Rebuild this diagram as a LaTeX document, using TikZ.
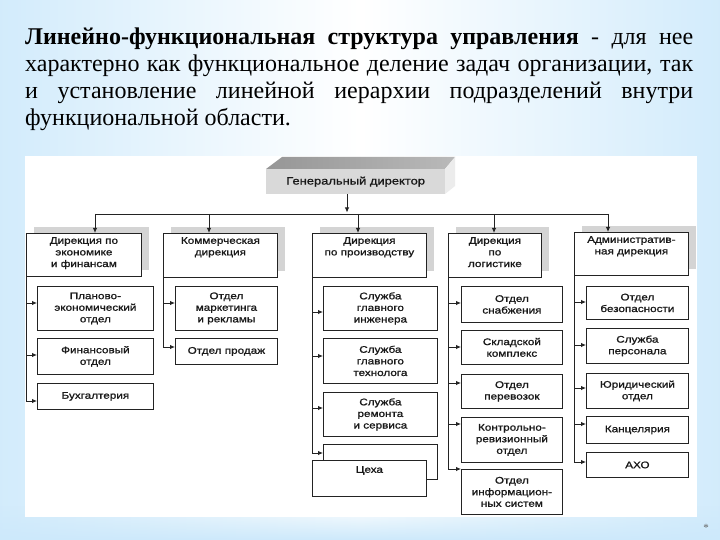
\documentclass[tikz,border=0pt]{standalone}
\usepackage{fontspec}
\setmainfont{Liberation Serif}
\newfontfamily\dfont[FakeStretch=1.22,FakeBold=1.2]{Liberation Sans}
\usetikzlibrary{arrows.meta,fadings}

\definecolor{bgblue}{RGB}{128,195,242}
\definecolor{bglight}{RGB}{205,233,251}
\definecolor{linec}{RGB}{35,35,35}
\definecolor{shadowc}{RGB}{212,212,212}
\definecolor{dfront}{RGB}{217,217,217}
\definecolor{dtopL}{RGB}{150,150,150}
\definecolor{dtopR}{RGB}{185,185,185}
\definecolor{dside}{RGB}{236,236,236}
\definecolor{textc}{RGB}{25,25,25}

\pgfdeclarehorizontalshading{bgh}{100bp}{color(0bp)=(bgblue); color(22bp)=(bglight); color(50bp)=(white); color(78bp)=(bglight); color(100bp)=(bgblue)}

\tikzset{
  ln/.style={draw=linec, line width=0.9pt},
  arr/.style={ln, -{Latex[length=5pt,width=4.5pt]}},
  box/.style={draw=linec, line width=0.8pt, fill=white, inner sep=0pt, anchor=north west,
    align=center, text=textc, font=\dfont\fontsize{9.6}{11.6}\selectfont},
  htext/.style={inner sep=0pt, anchor=north, align=center, text=textc, font=\dfont\fontsize{9.6}{11.6}\selectfont},
  titleline/.style={inner sep=0pt, anchor=base west, text=black, font=\fontsize{24}{27}\selectfont},
}

% #1 name, #2 x, #3 y, #4 w, #5 h, #6 text
\newcommand\headbx[6]{%
  \fill[shadowc] (#2+8,#3-6) rectangle (#2+8+#4,#3-6+#5);
  \node[box, minimum width=#4pt, minimum height=#5pt] (#1) at (#2,#3) {};
  \node[htext, yshift=-4pt] (#1t) at (#1.north) {#6};
}
% #1 name, #2 x, #3 y, #4 w, #5 h, #6 arrow offset, #7 column line anchor, #8 text
\newcommand\subbx[8]{%
  \node[box, minimum width=#4pt, minimum height=#5pt] (#1) at (#2,#3) {#8};
  \coordinate (#1a) at (#2,#3+#6);
  \draw[arr] (#7 |- #1a) -- (#1a);
}

\begin{document}
\begin{tikzpicture}[x=1pt,y=-1pt]
\useasboundingbox (0,0) rectangle (720,540);
\shade[shading=bgh] (0,0) rectangle (720,540);
\fill[bglight, path fading=north] (0,505) rectangle (720,540);
\fill[white] (25,156) rectangle (697,517);

% title
\node[titleline] (t1) at (25,45) {\makebox[668pt][s]{\bfseries Линейно-функциональная структура управления\mdseries{} - для нее}};
\node[titleline] (t2) at (25,72) {\makebox[668pt][s]{характерно как функциональное деление задач организации, так}};
\node[titleline] (t3) at (25,99) {\makebox[668pt][s]{и установление линейной иерархии подразделений внутри}};
\node[titleline] (t4) at (25,126) {функциональной области.};

% director (3D box)
\shade[left color=dtopL, right color=dtopR] (266,169) -- (282,157) -- (455,157) -- (445,169) -- cycle;
\fill[dside] (445,169) -- (455,157) -- (455,186) -- (445,194) -- cycle;
\node[inner sep=0pt, anchor=north west, fill=dfront, minimum width=179pt, minimum height=25pt,
  text=textc, font=\dfont\fontsize{10.6}{12}\selectfont] (dir) at (266,169) {Генеральный директор};

% heads
\headbx{h1}{26}{233}{115}{43}{Дирекция по\\экономике\\и финансам}
\headbx{h2}{163}{233}{114}{44}{Коммерческая\\дирекция}
\headbx{h3}{312}{233}{114}{44}{Дирекция\\по производству}
\headbx{h4}{448}{233}{93}{44}{Дирекция\\по\\логистике}
\headbx{h5}{574}{232}{114}{43}{Административ-\\ная дирекция}

% top connectors
\coordinate (jd) at (347,214);
\coordinate (j1) at (95,214);
\coordinate (j2) at (209,214);
\coordinate (j3) at (358,214);
\coordinate (j4) at (494,214);
\coordinate (j5) at (608,214);
\draw[arr, shorten >=1.5pt] (dir.south -| jd) -- (jd);
\draw[ln] (j1) -- (j5);
\draw[arr] (j1) -- (h1.north -| j1);
\draw[arr] (j2) -- (h2.north -| j2);
\draw[arr] (j3) -- (h3.north -| j3);
\draw[arr] (j4) -- (h4.north -| j4);
\draw[arr] (j5) -- (h5.north -| j5);

% column 1
\subbx{s11}{37}{286}{116}{44}{17}{h1.south west}{Планово-\\экономический\\отдел}
\subbx{s12}{37}{338}{116}{36}{17}{h1.south west}{Финансовый\\отдел}
\subbx{s13}{37}{383}{116}{26}{18}{h1.south west}{Бухгалтерия}
\draw[ln] (h1.south west) -- (h1.south west |- s13a);

% column 2
\subbx{s21}{175}{286}{102}{44}{17}{h2.south west}{Отдел\\маркетинга\\и рекламы}
\subbx{s22}{175}{338}{102}{26}{9}{h2.south west}{Отдел продаж}
\draw[ln] (h2.south west) -- (h2.south west |- s22a);

% column 3
\subbx{s31}{323}{286}{114}{44}{26}{h3.south west}{Служба\\главного\\инженера}
\subbx{s32}{323}{338}{114}{45}{18}{h3.south west}{Служба\\главного\\технолога}
\subbx{s33}{323}{392}{114}{44}{16}{h3.south west}{Служба\\ремонта\\и сервиса}
\subbx{s34}{323}{444}{114}{35}{9}{h3.south west}{}
\draw[ln] (h3.south west) -- (h3.south west |- s34a);
\node[box, minimum width=114pt, minimum height=36pt] (s35) at (312,460) {};
\node[htext, yshift=-6pt] (s35t) at (s35.north) {Цеха};

% column 4
\subbx{s41}{461}{286}{101}{36}{17}{h4.south west}{Отдел\\снабжения}
\subbx{s42}{461}{330}{101}{34}{17}{h4.south west}{Складской\\комплекс}
\subbx{s43}{461}{374}{101}{34}{9}{h4.south west}{Отдел\\перевозок}
\subbx{s44}{461}{417}{101}{45}{7}{h4.south west}{Контрольно-\\ревизионный\\отдел}
\subbx{s45}{461}{469}{101}{45}{0}{h4.south west}{Отдел\\информацион-\\ных систем}
\draw[ln] (h4.south west) -- (h4.south west |- s45a);

% column 5
\subbx{s51}{586}{286}{102}{33}{16}{h5.south west}{Отдел\\безопасности}
\subbx{s52}{586}{328}{102}{35}{17}{h5.south west}{Служба\\персонала}
\subbx{s53}{586}{373}{102}{35}{15}{h5.south west}{Юридический\\отдел}
\subbx{s54}{586}{416}{102}{27}{8}{h5.south west}{Канцелярия}
\subbx{s55}{586}{452}{102}{25}{10}{h5.south west}{АХО}
\draw[ln] (h5.south west) -- (h5.south west |- s55a);

\node[inner sep=0pt, text=black!60, font=\fontsize{11}{11}\selectfont] (star) at (706,528) {*};
\end{tikzpicture}
\end{document}
